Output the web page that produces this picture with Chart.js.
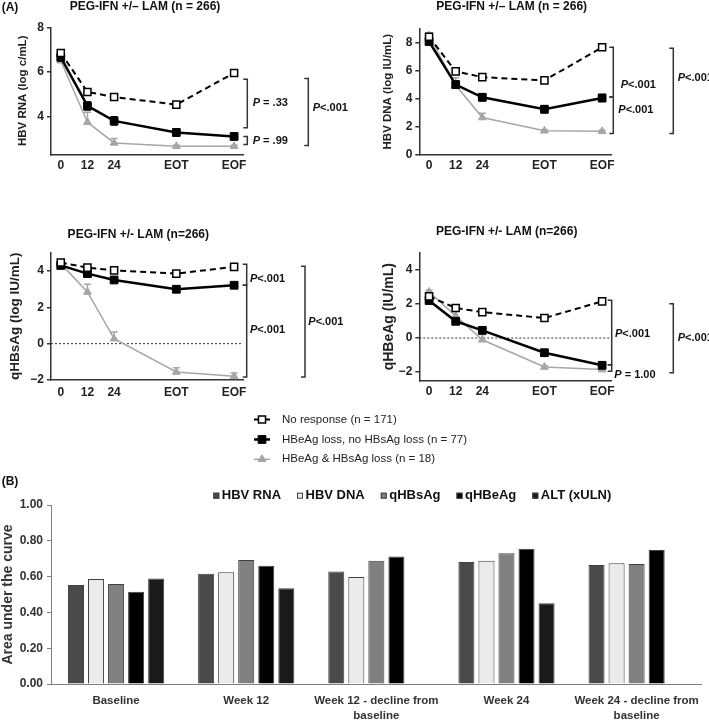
<!DOCTYPE html>
<html>
<head>
<meta charset="utf-8">
<script src="https://cdn.jsdelivr.net/npm/chart.js@4.4.1/dist/chart.umd.min.js"></script>
<style>
body { margin: 0; background: #fff; }
#wrap { position: relative; width: 709px; height: 720px; overflow: hidden; background: #fff; }
canvas { position: absolute; }
</style>
</head>
<body>
<div id="wrap">
	<canvas id="rna" width="355" height="205" style="left:0px;top:0px"></canvas>
	<canvas id="dna" width="354" height="205" style="left:355px;top:0px"></canvas>
	<canvas id="hbs" width="355" height="200" style="left:0px;top:205px"></canvas>
	<canvas id="hbe" width="354" height="200" style="left:355px;top:205px"></canvas>
	<canvas id="auc" width="709" height="315" style="left:0px;top:405px"></canvas>
</div>
<script>
var FONT = '"Liberation Sans", Arial, sans-serif';
Chart.defaults.font.family = FONT;

// (A) kinetics, weeks on a linear axis (EOT = wk 52, EOF = wk 78)
var weeks = [0, 12, 24, 52, 78];
var weekLabels = ['0', '12', '24', 'EOT', 'EOF'];
var groupNames = ['No response (n = 171)', 'HBeAg loss, no HBsAg loss (n = 77)', 'HBeAg & HBsAg loss (n = 18)'];

// HBV RNA (log c/mL)
var rnaNone = [6.85, 5.10, 4.87, 4.53, 5.95];
var rnaEloss = [6.65, 4.47, 3.80, 3.28, 3.10];
var rnaBoth = [6.50, 3.74, 2.81, 2.66, 2.66];
var rnaNoneErr = [0.08, 0.10, 0.10, 0.12, 0.10];
var rnaElossErr = [0.18, 0.18, 0.18, 0.15, 0.14];
var rnaBothErr = [0.20, 0.45, 0.20, 0.05, 0.05];
var rnaTicks = [4, 6, 8];
var rnaP = ['P = .33', 'P = .99', 'P<.001'];

// HBV DNA (log IU/mL)
var dnaNone = [8.40, 5.94, 5.53, 5.30, 7.65];
var dnaEloss = [8.06, 5.00, 4.10, 3.25, 4.05];
var dnaBoth = [8.48, 4.95, 2.66, 1.72, 1.68];
var dnaNoneErr = [0.10, 0.12, 0.10, 0.12, 0.12];
var dnaElossErr = [0.15, 0.25, 0.25, 0.25, 0.25];
var dnaBothErr = [0.20, 0.54, 0.30, 0.08, 0.08];
var dnaTicks = [0, 2, 4, 6, 8];
var dnaP = ['P<.001', 'P<.001', 'P<.001'];

// qHBsAg (log IU/mL)
var hbsNone = [4.46, 4.18, 4.03, 3.85, 4.22];
var hbsEloss = [4.30, 3.85, 3.50, 2.99, 3.21];
var hbsBoth = [4.40, 2.84, 0.27, -1.56, -1.80];
var hbsNoneErr = [0.05, 0.05, 0.05, 0.06, 0.05];
var hbsElossErr = [0.08, 0.10, 0.10, 0.15, 0.10];
var hbsBothErr = [0.10, 0.42, 0.37, 0.24, 0.18];
var hbsTicks = [-2, 0, 2, 4];
var hbsP = ['P<.001', 'P<.001', 'P<.001'];

// qHBeAg (IU/mL)
var hbeNone = [2.44, 1.76, 1.52, 1.17, 2.15];
var hbeEloss = [2.20, 0.98, 0.45, -0.86, -1.60];
var hbeBoth = [2.70, 1.30, -0.10, -1.70, -1.85];
var hbeNoneErr = [0.06, 0.06, 0.06, 0.06, 0.06];
var hbeElossErr = [0.10, 0.08, 0.10, 0.10, 0.10];
var hbeBothErr = [0.10, 0.35, 0.30, 0.08, 0.08];
var hbeTicks = [-2, 0, 2, 4];
var hbeP = ['P<.001', 'P = 1.00', 'P<.001'];

// (B) area under the ROC curve
var aucCats = [['Baseline'], ['Week 12'], ['Week 12 - decline from', 'baseline'], ['Week 24'], ['Week 24 - decline from', 'baseline']];
var aucNames = ['HBV RNA', 'HBV DNA', 'qHBsAg', 'qHBeAg', 'ALT (xULN)'];
var aucRna = [0.553, 0.616, 0.628, 0.682, 0.665];
var aucDna = [0.587, 0.624, 0.598, 0.689, 0.675];
var aucHbs = [0.559, 0.693, 0.689, 0.730, 0.671];
var aucHbe = [0.516, 0.661, 0.712, 0.755, 0.749];
var aucAlt = [0.590, 0.535, null, 0.451, null];
var aucTicks = [0, 0.2, 0.4, 0.6, 0.8, 1.0];

var groupStyles = [
	{ color: '#000', dash: [6, 4], width: 2, point: 'rect', radius: 5, fill: '#fff', pbw: 1.5, upOnly: false },
	{ color: '#000', dash: [], width: 2.5, point: 'rect', radius: 5.5, fill: '#000', pbw: 1, upOnly: false },
	{ color: '#a6a6a6', dash: [], width: 1.5, point: 'triangle', radius: 4.5, fill: '#a6a6a6', pbw: 1, upOnly: true }
];

var panels = [
	{ id: 'rna', title: 'PEG-IFN +/\u2013 LAM (n = 266)', titleX: 145, titleY: 6.7, tag: '(A)',
		yTitle: 'HBV RNA (log c/mL)', yTitleSize: 11.5, yTitleX: 23, h: 205,
		area: [51, 27.3, 243, 154.3], yMin: 2.3, yMax: 8, yTicks: rnaTicks, xPad: 4, zero: false,
		series: [rnaNone, rnaEloss, rnaBoth], errs: [rnaNoneErr, rnaElossErr, rnaBothErr], p: rnaP,
		brackets: [{ x: 247.3, y1: 5.67, y2: 3.49, tx: 252.7, ty: 4.62 },
			{ x: 247.3, y1: 3.10, y2: 2.74, tx: 252.7, ty: 2.92 },
			{ x: 308.3, y1: 5.70, y2: 2.69, tx: 312.7, ty: 4.39 }] },
	{ id: 'dna', title: 'PEG-IFN +/\u2013 LAM (n = 266)', titleX: 156.7, titleY: 6.7,
		yTitle: 'HBV DNA (log IU/mL)', yTitleSize: 11.5, yTitleX: 33.3, h: 205,
		area: [64.3, 28.3, 256, 155], yMin: 0, yMax: 9, yTicks: dnaTicks, xPad: 3.5, zero: false,
		series: [dnaNone, dnaEloss, dnaBoth], errs: [dnaNoneErr, dnaElossErr, dnaBothErr], p: dnaP,
		brackets: [{ x: 258.3, y1: 7.65, y2: 4.12, tx: 265.7, ty: 5.0 },
			{ x: 258.3, y1: 4.12, y2: 1.53, tx: 263.3, ty: 3.23 },
			{ x: 318.3, y1: 7.58, y2: 1.53, tx: 322.7, ty: 5.49 }] },
	{ id: 'hbs', title: 'PEG-IFN +/- LAM (n=266)', titleX: 138.3, titleY: 30,
		yTitle: 'qHBsAg (log IU/mL)', yTitleSize: 13.5, yTitleX: 15.3, h: 200,
		area: [51, 47.7, 243, 175], yMin: -2, yMax: 5, yTicks: hbsTicks, xPad: 5.5, zero: true,
		series: [hbsNone, hbsEloss, hbsBoth], errs: [hbsNoneErr, hbsElossErr, hbsBothErr], p: hbsP,
		brackets: [{ x: 246.7, y1: 4.36, y2: 3.21, tx: 250, ty: 3.58 },
			{ x: 246.7, y1: 3.21, y2: -1.84, tx: 250, ty: 0.73 },
			{ x: 305, y1: 4.25, y2: -1.84, tx: 308.3, ty: 1.19 }] },
	{ id: 'hbe', title: 'PEG-IFN +/- LAM (n=266)', titleX: 151.7, titleY: 26.7,
		yTitle: 'qHBeAg (IU/mL)', yTitleSize: 14, yTitleX: 34, h: 200,
		area: [64.3, 47.7, 256, 175.7], yMin: -2.5, yMax: 5, yTicks: hbeTicks, xPad: 3.8, zero: true,
		series: [hbeNone, hbeEloss, hbeBoth], errs: [hbeNoneErr, hbeElossErr, hbeBothErr], p: hbeP,
		brackets: [{ x: 256.7, y1: 2.21, y2: -1.56, tx: 260, ty: 0.21 },
			{ x: 256.7, y1: -1.56, y2: -1.95, tx: 259.3, ty: -2.19 },
			{ x: 318.3, y1: 2.01, y2: -2.03, tx: 322.7, ty: 0 }] }
];

function drawPText(ctx, text, x, y) {
	ctx.textAlign = 'left';
	ctx.textBaseline = 'middle';
	ctx.fillStyle = '#111';
	ctx.font = 'italic bold 11px ' + FONT;
	ctx.fillText('P', x, y);
	var w = ctx.measureText('P').width;
	ctx.font = 'bold 11px ' + FONT;
	ctx.fillText(text.slice(1), x + w, y);
}

function makePanel(p) {
	var canvas = document.getElementById(p.id);
	var datasets = p.series.map(function(vals, i) {
		var s = groupStyles[i];
		return {
			label: groupNames[i],
			data: vals.map(function(v, j) { return { x: weeks[j], y: v }; }),
			borderColor: s.color, borderWidth: s.width, borderDash: s.dash,
			pointStyle: s.point, pointRadius: s.radius, pointBackgroundColor: s.fill,
			pointBorderColor: s.color, pointBorderWidth: s.pbw, tension: 0, clip: false
		};
	});

	var decor = {
		id: 'decor',
		beforeDatasetsDraw: function(chart) {
			var ctx = chart.ctx, ys = chart.scales.y, a = chart.chartArea;
			ctx.save();
			if (p.zero) {
				var y0 = ys.getPixelForValue(0);
				ctx.strokeStyle = '#333';
				ctx.lineWidth = 1;
				ctx.setLineDash([2, 2]);
				ctx.beginPath();
				ctx.moveTo(a.left, y0);
				ctx.lineTo(a.right, y0);
				ctx.stroke();
				ctx.setLineDash([]);
			}
			// error bars (the small group only shows the upper half)
			p.errs.forEach(function(errs, i) {
				var meta = chart.getDatasetMeta(i);
				var up = groupStyles[i].upOnly;
				ctx.strokeStyle = groupStyles[i].color;
				ctx.lineWidth = 1.5;
				errs.forEach(function(e, j) {
					var v = p.series[i][j];
					var x = meta.data[j].x;
					var yt = ys.getPixelForValue(v + e);
					var yb = up ? ys.getPixelForValue(v) : ys.getPixelForValue(v - e);
					ctx.beginPath();
					ctx.moveTo(x, yt); ctx.lineTo(x, yb);
					ctx.moveTo(x - 3.5, yt); ctx.lineTo(x + 3.5, yt);
					if (!up) {
						ctx.moveTo(x - 3.5, yb); ctx.lineTo(x + 3.5, yb);
					}
					ctx.stroke();
				});
			});
			ctx.restore();
		},
		afterDraw: function(chart) {
			var ctx = chart.ctx, ys = chart.scales.y;
			ctx.save();
			ctx.fillStyle = '#111';
			ctx.font = 'bold 12px ' + FONT;
			ctx.textAlign = 'center';
			ctx.textBaseline = 'middle';
			ctx.fillText(p.title, p.titleX, p.titleY);
			if (p.tag) {
				ctx.textAlign = 'left';
				ctx.fillText(p.tag, 1.7, 7.3);
			}
			ctx.strokeStyle = '#333';
			ctx.lineWidth = 1.5;
			p.brackets.forEach(function(b, k) {
				var ya = ys.getPixelForValue(b.y1), yb = ys.getPixelForValue(b.y2);
				ctx.beginPath();
				ctx.moveTo(b.x - 4, ya); ctx.lineTo(b.x, ya);
				ctx.lineTo(b.x, yb); ctx.lineTo(b.x - 4, yb);
				ctx.stroke();
				drawPText(ctx, p.p[k], b.tx, ys.getPixelForValue(b.ty));
			});
			ctx.restore();
		}
	};

	return new Chart(canvas, {
		type: 'line',
		data: { datasets: datasets },
		options: {
			responsive: false,
			animation: false,
			layout: { padding: { left: 0, top: p.area[1], right: canvas.width - p.area[2], bottom: 0 } },
			plugins: { legend: { display: false }, tooltip: { enabled: false } },
			scales: {
				x: {
					type: 'linear', min: -4.4, max: 82,
					afterFit: function(s) { s.height = p.h - p.area[3]; },
					afterBuildTicks: function(s) { s.ticks = weeks.map(function(v) { return { value: v }; }); },
					ticks: {
						autoSkip: false, maxRotation: 0, padding: p.xPad, color: '#222',
						font: { size: 12, weight: 'bold' },
						callback: function(v, i) { return weekLabels[i]; }
					},
					grid: { display: false, drawTicks: false },
					border: { display: true, color: '#333', width: 1.5 }
				},
				y: {
					type: 'linear', min: p.yMin, max: p.yMax,
					afterFit: function(s) { s.width = p.area[0]; },
					afterBuildTicks: function(s) { s.ticks = p.yTicks.map(function(v) { return { value: v }; }); },
					ticks: {
						padding: 3, color: '#222', font: { size: 12, weight: 'bold' },
						callback: function(v) { return v < 0 ? '\u2212' + Math.abs(v) : '' + v; }
					},
					grid: { drawOnChartArea: false, drawTicks: true, tickLength: 4, color: '#333', lineWidth: 1.5 },
					border: { display: true, color: '#333', width: 1.5 },
					title: {
						display: true, text: p.yTitle, color: '#222',
						font: { size: p.yTitleSize, weight: 'bold', lineHeight: 1.2 },
						padding: { top: p.yTitleX - p.yTitleSize * 0.6, bottom: 0 }
					}
				}
			}
		},
		plugins: [decor]
	});
}

panels.forEach(makePanel);

// (B) bar chart + the shared legend of (A)
var barColors = ['#4a4a4a', '#ebebeb', '#808080', '#000000', '#1a1a1a'];
var aucSeries = [aucRna, aucDna, aucHbs, aucHbe, aucAlt];

var aucDecor = {
	id: 'aucDecor',
	afterDraw: function(chart) {
		var ctx = chart.ctx;
		ctx.save();
		// legend for the kinetics panels
		var rows = [14.5, 34.5, 54.3];
		groupNames.forEach(function(name, i) {
			var s = groupStyles[i];
			ctx.strokeStyle = s.color;
			ctx.lineWidth = s.width;
			ctx.setLineDash(s.dash.length ? [4, 2] : []);
			ctx.beginPath();
			ctx.moveTo(254, rows[i]);
			ctx.lineTo(270, rows[i]);
			ctx.stroke();
			ctx.setLineDash([]);
			ctx.fillStyle = s.fill;
			ctx.lineWidth = s.pbw;
			Chart.helpers.drawPoint(ctx, { pointStyle: s.point, radius: s.radius, rotation: 0, borderWidth: s.pbw }, 262, rows[i]);
			ctx.fillStyle = '#222';
			ctx.font = '11.5px ' + FONT;
			ctx.textAlign = 'left';
			ctx.textBaseline = 'middle';
			ctx.fillText(name, 282, rows[i]);
		});
		// bar legend
		ctx.font = 'bold 13px ' + FONT;
		var x = 213.3, y = 90.7;
		chart.data.datasets.forEach(function(ds) {
			ctx.fillStyle = ds.backgroundColor;
			ctx.fillRect(x, y - 3, 6, 6);
			ctx.strokeStyle = '#404040';
			ctx.lineWidth = 1;
			ctx.strokeRect(x + 0.5, y - 2.5, 5, 5);
			ctx.fillStyle = '#111';
			ctx.fillText(ds.label, x + 8.5, y);
			x += 8.5 + ctx.measureText(ds.label).width + 16;
		});
		ctx.font = 'bold 12px ' + FONT;
		ctx.fillText('(B)', 1.7, 77);
		ctx.restore();
	}
};

new Chart(document.getElementById('auc'), {
	type: 'bar',
	data: {
		labels: aucCats,
		datasets: aucSeries.map(function(vals, i) {
			return {
				label: aucNames[i], data: vals, backgroundColor: barColors[i],
				borderColor: '#404040', borderWidth: 1,
				categoryPercentage: 0.77, barPercentage: 0.8
			};
		})
	},
	options: {
		responsive: false,
		animation: false,
		layout: { padding: { left: 0, top: 100, right: 7.3, bottom: 0 } },
		plugins: { legend: { display: false }, tooltip: { enabled: false } },
		scales: {
			x: {
				afterFit: function(s) { s.height = 36; },
				grid: { display: false, drawTicks: false },
				border: { display: true, color: '#808080', width: 1 },
				ticks: {
					autoSkip: false, maxRotation: 0, padding: 9, color: '#333',
					font: { size: 11.5, weight: 'bold', lineHeight: 1.3 }
				}
			},
			y: {
				min: 0, max: 1,
				afterFit: function(s) { s.width = 51; },
				afterBuildTicks: function(s) { s.ticks = aucTicks.map(function(v) { return { value: v }; }); },
				ticks: {
					padding: 4, color: '#333', font: { size: 12, weight: 'bold' },
					callback: function(v) { return v.toFixed(2); }
				},
				grid: { drawOnChartArea: false, drawTicks: true, tickLength: 4, color: '#808080' },
				border: { display: true, color: '#808080', width: 1 },
				title: {
					display: true, text: 'Area under the curve', color: '#333',
					font: { size: 14, weight: 'bold', lineHeight: 1.2 },
					padding: { top: 0, bottom: 0 }
				}
			}
		}
	},
	plugins: [aucDecor]
});
</script>
</body>
</html>
